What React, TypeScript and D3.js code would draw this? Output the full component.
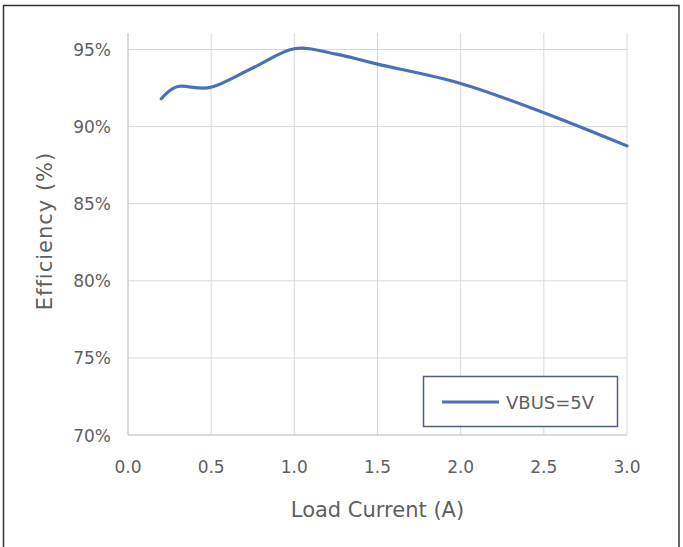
import React from "react";
import * as d3 from "d3";

const loadCurrent = [0.2, 0.3, 0.5, 0.75, 1.0, 1.25, 1.5, 2.0, 2.5, 3.0];
const efficiency = [91.8, 92.6, 92.55, 93.8, 95.05, 94.7, 94.05, 92.8, 90.9, 88.75];
const xTicks = [0, 0.5, 1.0, 1.5, 2.0, 2.5, 3.0];
const yTicks = [70, 75, 80, 85, 90, 95];
const seriesName = "VBUS=5V";
const xTitle = "Load Current (A)";
const yTitle = "Efficiency (%)";

const W = 683;
const H = 547;
const left = 128;
const right = 627;
const plotTop = 33;
const font = "'DejaVu Sans', sans-serif";
const textColor = "#5f5f5f";
const grid = "#d9d9d9";
const lineColor = "#4a70b8";

export default function App() {
  const x = d3.scaleLinear().domain([0, 3]).range([left, right]);
  const y = d3.scaleLinear().domain([70, 95]).range([435, 49.5]);
  const pts: [number, number][] = loadCurrent.map((v, i) => [v, efficiency[i]]);
  const line = d3
    .line<[number, number]>()
    .x((d) => x(d[0]))
    .y((d) => y(d[1]))
    .curve(d3.curveCardinal.tension(0));

  return (
    <svg
      width={W}
      height={H}
      style={{ position: "absolute", left: 0, top: 0, background: "#fff" }}
    >
      <rect x={3.5} y={5.5} width={675.5} height={560} fill="#fff" stroke="#333" strokeWidth={1.5} />
      {xTicks.map((t) => (
        <line key={"vx" + t} x1={x(t)} x2={x(t)} y1={plotTop} y2={y(70)} stroke={grid} strokeWidth={1} />
      ))}
      {yTicks.map((t) => (
        <line key={"hy" + t} x1={left} x2={right} y1={y(t)} y2={y(t)} stroke={grid} strokeWidth={1} />
      ))}
      <line x1={left} x2={left} y1={plotTop} y2={y(70)} stroke="#c8c8c8" strokeWidth={1} />
      <line x1={left} x2={right} y1={y(70)} y2={y(70)} stroke="#c8c8c8" strokeWidth={1} />
      {yTicks.map((t) => (
        <text
          key={"yl" + t}
          x={111}
          y={y(t) + 6.5}
          textAnchor="end"
          fontFamily={font}
          fontSize={17}
          fill={textColor}
        >
          {t + "%"}
        </text>
      ))}
      {xTicks.map((t) => (
        <text
          key={"xl" + t}
          x={x(t)}
          y={473}
          textAnchor="middle"
          fontFamily={font}
          fontSize={17}
          fill={textColor}
        >
          {t.toFixed(1)}
        </text>
      ))}
      <text
        x={(left + right) / 2}
        y={516.5}
        textAnchor="middle"
        fontFamily={font}
        fontSize={21}
        fill={textColor}
      >
        {xTitle}
      </text>
      <text
        transform={`translate(51.5,231) rotate(-90)`}
        textAnchor="middle"
        fontFamily={font}
        fontSize={21}
        letterSpacing={1}
        fill={textColor}
      >
        {yTitle}
      </text>
      <path d={line(pts) || ""} fill="none" stroke={lineColor} strokeWidth={3.2} strokeLinecap="round" />
      <rect x={423.5} y={376.5} width={194} height={50} fill="#fff" stroke="#4f5f7f" strokeWidth={1.5} />
      <line x1={442} x2={499} y1={402} y2={402} stroke={lineColor} strokeWidth={3.2} />
      <text x={506} y={408.5} fontFamily={font} fontSize={18} fill={textColor}>
        {seriesName}
      </text>
    </svg>
  );
}
